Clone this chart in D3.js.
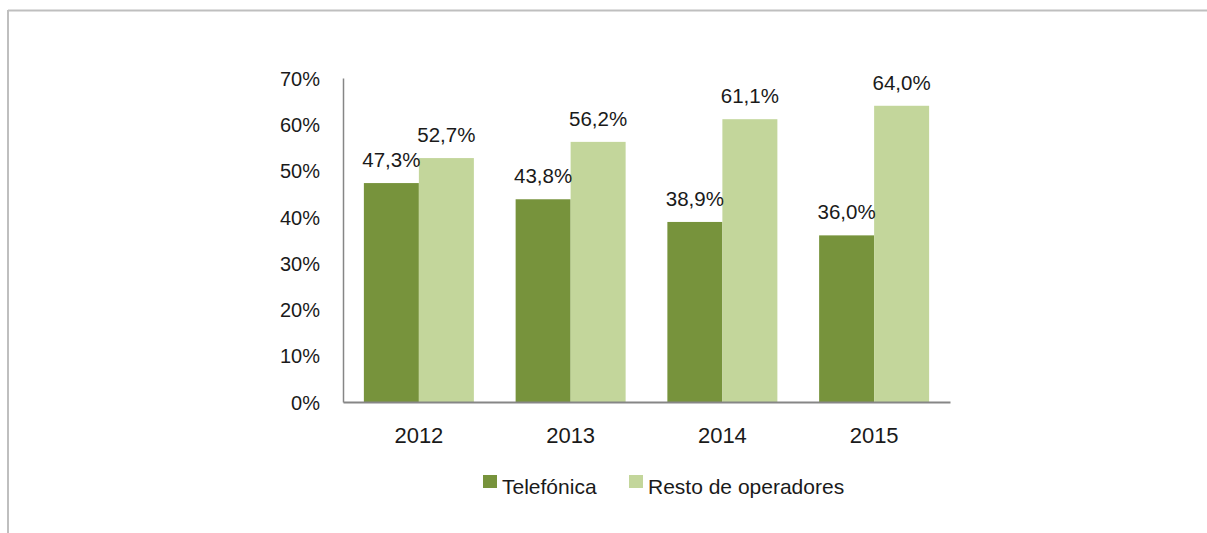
<!DOCTYPE html>
<html>
<head>
<meta charset="utf-8">
<script src="https://cdn.jsdelivr.net/npm/d3@7"></script>
<style>
  body { margin: 0; background: #fff; }
  svg { display: block; font-family: "Liberation Sans", Arial, sans-serif; }
</style>
</head>
<body>
<svg width="1207" height="533"></svg>
<script>
var years = ["2012", "2013", "2014", "2015"];
var series = ["Telefónica", "Resto de operadores"];
var telefonica = [47.3, 43.8, 38.9, 36.0];
var resto = [52.7, 56.2, 61.1, 64.0];
var yTicks = [0, 10, 20, 30, 40, 50, 60, 70];
var colors = ["#77933c", "#c3d69b"];

var svg = d3.select("svg");

// frame (top and left edges visible)
svg.append("line").attr("x1", 8).attr("x2", 1207).attr("y1", 10.5).attr("y2", 10.5)
    .attr("stroke", "#bfbfbf").attr("stroke-width", 2);
svg.append("line").attr("x1", 8).attr("x2", 8).attr("y1", 10).attr("y2", 533)
    .attr("stroke", "#bfbfbf").attr("stroke-width", 2);

var x0 = d3.scaleBand().domain(years).range([343, 950]);
var x1 = d3.scaleBand().domain(series).range([0, 110]);
var y = d3.scaleLinear().domain([0, 70]).range([402, 78]);

var data = years.map(function(yr, i) {
  return { year: yr, values: [telefonica[i], resto[i]] };
});

var fmt = function(v) { return d3.format(".1f")(v).replace(".", ",") + "%"; };

var groups = svg.append("g").selectAll("g")
  .data(data)
  .enter().append("g")
    .attr("transform", function(d) {
      return "translate(" + (x0(d.year) + (x0.bandwidth() - 110) / 2) + ",0)";
    });

groups.selectAll("rect")
  .data(function(d) { return d.values.map(function(v, j) { return { s: series[j], v: v, j: j }; }); })
  .enter().append("rect")
    .attr("x", function(d) { return x1(d.s); })
    .attr("width", x1.bandwidth())
    .attr("y", function(d) { return y(d.v); })
    .attr("height", function(d) { return y(0) - y(d.v); })
    .attr("fill", function(d) { return colors[d.j]; });

groups.selectAll("text")
  .data(function(d) { return d.values.map(function(v, j) { return { s: series[j], v: v }; }); })
  .enter().append("text")
    .attr("x", function(d) { return x1(d.s) + x1.bandwidth() / 2; })
    .attr("y", function(d) { return y(d.v) - 16; })
    .attr("text-anchor", "middle")
    .attr("font-size", "20.5px")
    .attr("fill", "#1a1a1a")
    .text(function(d) { return fmt(d.v); });

// y axis
var yAxis = svg.append("g")
    .attr("transform", "translate(343,0)")
    .call(d3.axisLeft(y).tickValues(yTicks).tickSize(0).tickPadding(23)
      .tickFormat(function(d) { return d + "%"; }));
yAxis.select(".domain").attr("stroke", "#868686").attr("stroke-width", 1.5);
yAxis.selectAll("text").attr("font-size", "20px").attr("fill", "#1a1a1a")
    .attr("font-family", "Liberation Sans, Arial, sans-serif").attr("dy", "0.36em");

// x axis
var xAxis = svg.append("g")
    .attr("transform", "translate(0,402)")
    .call(d3.axisBottom(x0).tickSize(0).tickPadding(25));
xAxis.select(".domain").attr("stroke", "#868686").attr("stroke-width", 2);
xAxis.selectAll("text").attr("font-size", "22px").attr("fill", "#1a1a1a")
    .attr("font-family", "Liberation Sans, Arial, sans-serif");

// legend
var legendX = [483, 629];
var legend = svg.append("g").selectAll("g")
  .data(series)
  .enter().append("g")
    .attr("transform", function(d, i) { return "translate(" + legendX[i] + ",475)"; });
legend.append("rect").attr("width", 14).attr("height", 13)
    .attr("fill", function(d, i) { return colors[i]; });
legend.append("text").attr("x", 19).attr("y", 19)
    .attr("font-size", "21px").attr("fill", "#1a1a1a")
    .text(function(d) { return d; });
</script>
</body>
</html>
